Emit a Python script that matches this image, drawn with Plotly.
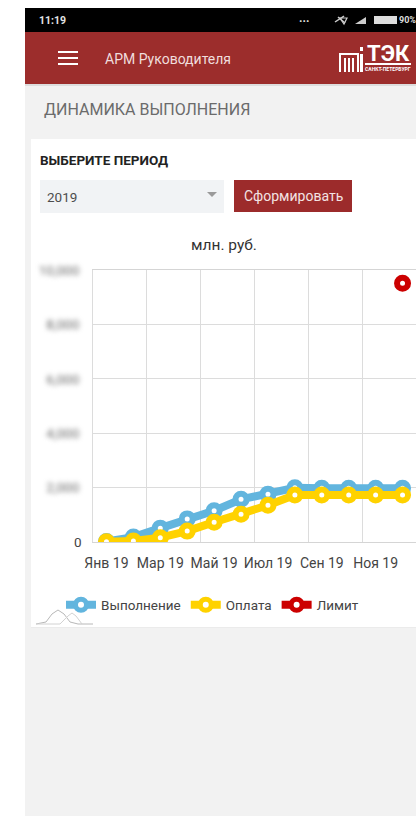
import plotly.graph_objects as go

W, H = 416, 816
months = ["Янв 19","Фев 19","Мар 19","Апр 19","Май 19","Июн 19","Июл 19","Авг 19","Сен 19","Окт 19","Ноя 19","Дек 19"]
vypolnenie = [20, 180, 510, 850, 1150, 1570, 1760, 1990, 1980, 1980, 1980, 1980]
oplata = [10, 40, 160, 400, 730, 1020, 1350, 1730, 1730, 1730, 1730, 1730]
limit_month = ["Дек 19"]
limit_value = [9510]
y_ticks = [0, 2000, 4000, 6000, 8000, 10000]
y_labels = ["", "2,000", "4,000", "6,000", "8,000", "10,000"]
FONT = "Roboto"

def px(x): return x / W
def py(y): return 1 - y / H

shapes = []
def rect(x0, y0, x1, y1, fill, line=None, layer="below"):
    shapes.append(dict(type="rect", xref="paper", yref="paper", x0=px(x0), x1=px(x1), y0=py(y0), y1=py(y1),
                       fillcolor=fill, line=dict(width=0 if line is None else 1, color=line or fill), layer=layer))
def path(points, color=None, width=1.5, fill=None, close=False, layer="below"):
    d = "M " + " L ".join(f"{px(a):.5f},{py(b):.5f}" for a, b in points) + (" Z" if close else "")
    shapes.append(dict(type="path", xref="paper", yref="paper", path=d, layer=layer,
                       fillcolor=fill or "rgba(0,0,0,0)", line=dict(color=color or "rgba(0,0,0,0)", width=width if color else 0)))

# page
rect(25, 84, 416, 816, "#f2f2f2")
rect(31, 140, 416, 628, "#ebebeb")
rect(31, 139, 416, 627, "#ffffff")
rect(25, 8, 416, 32, "#000000")
rect(25, 84, 416, 86, "#dddddd")
rect(25, 32, 416, 84, "#9c2d2c")
# hamburger
for y in (52, 58, 64):
    rect(58, y - 1, 78, y + 1, "#ffffff")
# controls
rect(40, 180, 224, 213, "#f1f3f5")
path([(207, 192), (217, 192), (212, 197)], fill="#9a9a9a", close=True)
rect(234, 180, 352, 212, "#9c2b2b")
# status icons
rect(374, 16, 397, 24, "#dddddd")
path([(355, 24), (366, 24), (366, 17)], fill="#cccccc", close=True)
path([(335, 22), (344, 16)], color="#cccccc", width=1.5)
path([(338, 17), (345, 23)], color="#cccccc", width=1.5)
path([(340, 18), (347, 18), (344, 24)], color="#cccccc", width=1.2, close=True)
# logo
path([(340, 72), (340, 54), (358, 54), (358, 72)], color="#ffffff", width=2)
for xx in (345, 349, 353):
    path([(xx, 58), (xx, 72)], color="#ffffff", width=2)
rect(360, 54, 363, 72, "#ffffff")
rect(360, 47, 363, 51, "#ffffff")
rect(365, 63, 411, 65, "#ffffff")
# small hills mark
path([(36, 624), (46, 622), (52, 614), (58, 610), (64, 614), (70, 622), (78, 624), (93, 624)], color="#b8b8b8", width=1)
path([(36, 624), (60, 624), (68, 616), (72, 613), (76, 616), (82, 624)], color="#d2d2d2", width=1)

annotations = []
def text(x, y, s, size, color, anchor="left", family=FONT, bold=False):
    f = dict(family=family, size=size, color=color, weight=700 if bold else 400)
    annotations.append(dict(xref="paper", yref="paper", x=px(x), y=py(y), text=s, showarrow=False, xanchor=anchor,
                            yanchor="middle", font=f, borderpad=0, borderwidth=0))

text(39, 20, "11:19", 10.5, "#e4e4e4", bold=True)
text(299, 18, "...", 12, "#dddddd", bold=True)
text(399, 20, "90%", 9, "#dddddd", bold=True)
text(105, 59, "АРМ Руководителя", 14, "#f0dddd")
text(44, 110, "ДИНАМИКА ВЫПОЛНЕНИЯ", 16, "#6b6b6b")
text(40, 160, "ВЫБЕРИТЕ ПЕРИОД", 13.5, "#222222", bold=True)
text(47, 197, "2019", 13.5, "#4d4d4d")
text(293, 196, "Сформировать", 14, "#f3e3e3", anchor="center")
text(224, 245, "млн. руб.", 15.5, "#333333", anchor="center")
text(388, 54, "ТЭК", 22, "#ffffff", anchor="center", bold=True)
text(388, 69, "САНКТ-ПЕТЕРБУРГ", 5, "#ffffff", anchor="center", bold=True)
text(82, 542, "0", 13.5, "#444444", anchor="right")

def series(name, x, y, color):
    return go.Scatter(x=x, y=y, name=name, mode="lines+markers", cliponaxis=True,
                      line=dict(color=color, width=8),
                      marker=dict(symbol="circle", size=11, color="#ffffff", line=dict(color=color, width=6)))

fig = go.Figure([
    series("Выполнение", months, vypolnenie, "#62b5de"),
    series("Оплата", months, oplata, "#ffd200"),
    series("Лимит", limit_month, limit_value, "#cc0000"),
])
fig.update_layout(
    width=W, height=H, autosize=False, margin=dict(l=0, r=0, t=0, b=0, autoexpand=False),
    paper_bgcolor="#ffffff", plot_bgcolor="rgba(0,0,0,0)",
    font=dict(family=FONT, size=13.5, color="#444444"),
    shapes=shapes, annotations=annotations,
    legend=dict(orientation="h", x=px(61), xanchor="left", y=py(605), yanchor="middle",
                font=dict(family=FONT, size=13.5, color="#444444"), bgcolor="rgba(0,0,0,0)",
                itemwidth=30, tracegroupgap=0),
    xaxis=dict(domain=[px(93), 1], type="category", categoryorder="array", categoryarray=months,
               range=[-0.5, 11.5], dtick=2, tickson="boundaries", showgrid=True, gridcolor="#dcdcdc", gridwidth=1,
               ticks="", showline=True, mirror=True, linecolor="#d5d5d5", linewidth=1, zeroline=False, ticklabelstandoff=8,
               tickangle=0, fixedrange=True, tickfont=dict(family=FONT, size=14, color="#444444")),
    yaxis=dict(domain=[py(542), py(270)], range=[0, 10000], tickmode="array", tickvals=y_ticks, ticktext=y_labels,
               showgrid=True, gridcolor="#dcdcdc", gridwidth=1, zeroline=False, showline=True, linecolor="#dcdcdc",
               linewidth=1, ticks="", ticklabelstandoff=10, fixedrange=True,
               tickfont=dict(family=FONT, size=13.5, color="#666666")),
)
post = """
var s = document.createElement('style');
s.textContent = 'html,body{margin:0!important;padding:0!important;overflow:hidden!important} .ytick text{filter:blur(2.4px)}';
document.head.appendChild(s);
"""
fig.write_html("out.html", config=dict(displayModeBar=False), post_script=post)
